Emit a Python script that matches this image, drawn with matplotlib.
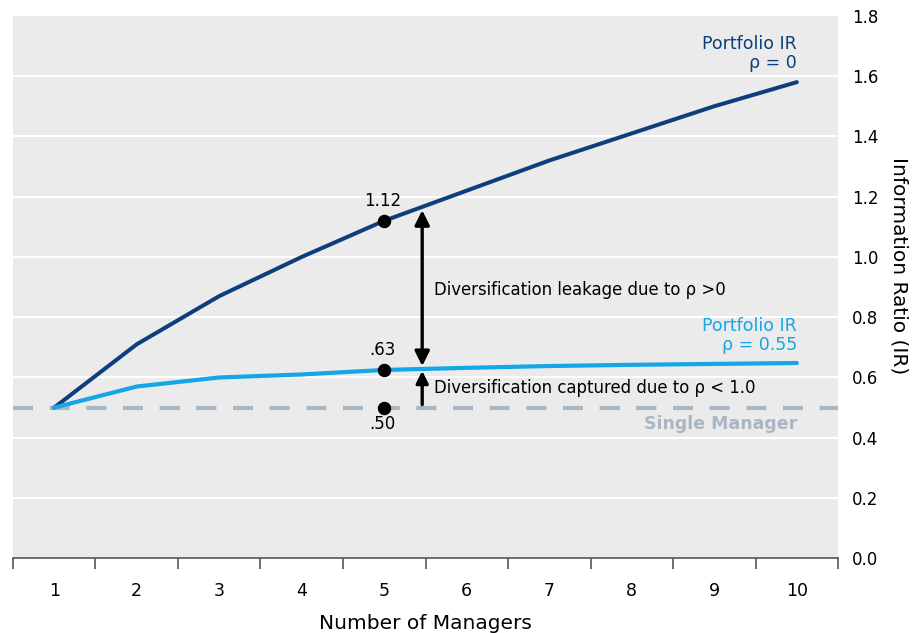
import matplotlib.pyplot as plt
import numpy as np

# data
managers = [1, 2, 3, 4, 5, 6, 7, 8, 9, 10]
ir_rho0 = [0.50, 0.71, 0.87, 1.00, 1.12, 1.22, 1.32, 1.41, 1.50, 1.58]
ir_rho055 = [0.50, 0.57, 0.60, 0.61, 0.625, 0.632, 0.638, 0.642, 0.645, 0.648]
single_ir = 0.50
y_ticks = [0.0, 0.2, 0.4, 0.6, 0.8, 1.0, 1.2, 1.4, 1.6, 1.8]

DARK = "#0d3f7c"
LIGHT = "#14a6e6"
DASH = "#a9b6c3"
BG = "#ebebeb"

plt.rcParams["font.family"] = ["DejaVu Sans"]

fig = plt.figure(figsize=(9.22, 6.33), dpi=100)
ax = fig.add_axes([0.014, 0.118, 0.895, 0.857])
ax.set_facecolor(BG)

ax.set_xlim(0.5, 10.5)
ax.set_ylim(0, 1.8)

# white horizontal gridlines
for yv in y_ticks[1:-1]:
    ax.axhline(yv, color="white", lw=1.5, zorder=1)

ax.axhline(single_ir, color=DASH, lw=3, ls=(0, (4.8, 4.0)), zorder=2)
ax.plot(managers, ir_rho0, color=DARK, lw=2.9, zorder=3, solid_capstyle="round")
ax.plot(managers, ir_rho055, color=LIGHT, lw=3.0, zorder=3, solid_capstyle="round")

# highlighted points at 5 managers
ax.scatter([5, 5, 5], [ir_rho0[4], ir_rho055[4], single_ir], s=75, color="black", zorder=5)
ax.text(4.98, ir_rho0[4] + 0.035, "1.12", ha="center", va="bottom", fontsize=12)
ax.text(4.98, ir_rho055[4] + 0.035, ".63", ha="center", va="bottom", fontsize=12)
ax.text(4.98, single_ir - 0.025, ".50", ha="center", va="top", fontsize=12)

# arrows
ax.annotate("", xy=(5.46, 1.155), xytext=(5.46, 0.638),
            arrowprops=dict(arrowstyle="<|-|>", color="black", lw=2.4, mutation_scale=22, shrinkA=0, shrinkB=0))
ax.annotate("", xy=(5.46, 0.622), xytext=(5.46, 0.51),
            arrowprops=dict(arrowstyle="-|>", color="black", lw=2.4, mutation_scale=18, shrinkA=0, shrinkB=0))
ax.text(5.6, 0.89, "Diversification leakage due to ρ >0", fontsize=11.9, va="center")
ax.text(5.6, 0.565, "Diversification captured due to ρ < 1.0", fontsize=11.9, va="center")

# series labels
ax.text(10.0, 1.675, "Portfolio IR\nρ = 0", color=DARK, fontsize=12.5, ha="right", va="center",
        linespacing=1.05)
ax.text(10.0, 0.74, "Portfolio IR\nρ = 0.55", color=LIGHT, fontsize=12.5, ha="right", va="center",
        linespacing=1.05)
ax.text(10.0, 0.445, "Single Manager", color=DASH, fontsize=12.5, fontweight="bold",
        ha="right", va="center")

# axes styling
for side in ["top", "left", "right"]:
    ax.spines[side].set_visible(False)
ax.spines["bottom"].set_color("#555555")
ax.spines["bottom"].set_linewidth(1.2)

ax.set_xticks(managers)
ax.set_xticks(np.arange(0.5, 11, 1), minor=True)
ax.tick_params(axis="x", which="major", length=0, pad=17, labelsize=12.5)
ax.tick_params(axis="x", which="minor", length=8, width=1.2, color="#555555")

ax.yaxis.tick_right()
ax.set_yticks(y_ticks)
ax.set_yticklabels([f"{v:.1f}" for v in y_ticks])
ax.tick_params(axis="y", length=0, pad=10, labelsize=12)

ax.set_xlabel("Number of Managers", fontsize=14.5, labelpad=10)
ax.yaxis.set_label_position("right")
ax.set_ylabel("Information Ratio (IR)", fontsize=14.5, rotation=-90)
ax.yaxis.set_label_coords(1.085, 0.54)

fig.savefig("out.png", dpi=100)
